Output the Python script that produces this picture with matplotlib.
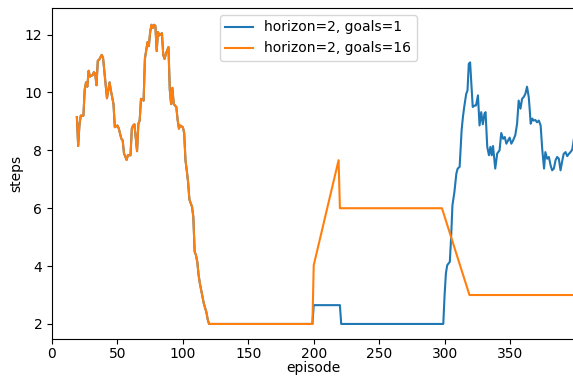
import matplotlib
matplotlib.use("Agg")
import matplotlib.pyplot as plt

# Shared part (both runs identical, episodes 19-120)
shared_ep = [19, 20, 21, 22, 24, 25, 26, 27, 28, 29, 31, 32, 33, 34, 35, 36, 38, 39,
             42, 44, 45, 47, 48, 50, 51, 53, 54, 55, 57, 58, 60, 61, 62, 63, 65, 66,
             67, 68, 70, 71, 72, 73, 74, 75, 76, 77, 78, 79, 80, 81, 82, 84, 85, 86,
             87, 89, 90, 91, 92, 93, 95, 96, 97, 98, 100, 101, 102, 103, 104, 105,
             107, 108, 109, 110, 111, 112, 113, 114, 116, 117, 118, 119, 120]
shared_steps = [9.15, 8.15, 8.9, 9.2, 9.2, 10.1, 10.35, 10.2, 10.75, 10.55, 10.6, 10.7, 10.65,
                10.25, 11.1, 11.13, 11.3, 11.2, 9.8, 10.35, 10.07, 9.6, 8.8, 8.86, 8.76,
                8.4, 8.35, 7.9, 7.67, 7.83, 7.83, 8.75, 8.86, 8.9, 7.97, 8.92, 9.03, 9.78,
                9.72, 11.17, 11.45, 11.74, 11.6, 12.08, 12.34, 12.23, 12.34, 12.3, 11.43,
                12.09, 11.97, 12.05, 11.3, 11.16, 11.33, 11.57, 10.1, 9.6, 10.16, 9.6,
                9.5, 9.05, 8.75, 8.86, 8.8, 8.6, 7.66, 7.3, 6.9, 6.3, 6.05, 5.7, 4.5,
                4.38, 4.15, 3.7, 3.4, 3.17, 2.71, 2.55, 2.4, 2.15, 2.0]

# horizon=2, goals=1 after episode 120
blue_ep = [199, 200, 220, 221, 299, 300, 301, 302, 304, 305, 306, 307.5, 309, 310,
           311.5, 313, 314, 315, 316.5, 317.5, 318.5, 319.5, 320.5, 321.5, 323, 324,
           325.5, 326.7, 328, 329.2, 330.5, 331.3, 332.6, 333.9, 335, 336, 337, 338.7,
           340.2, 342, 343.3, 344.7, 346, 347.2, 348.5, 349.7, 351, 352.3, 354, 355.4,
           356.6, 358, 359.2, 360.4, 361.7, 363, 364.3, 365, 365.8, 367, 368, 369.4,
           370.6, 372, 373.4, 374.6, 376, 377, 378.4, 379.7, 381, 382.2, 383.5, 384.8,
           386, 387.3, 388.6, 390, 391, 392.4, 393.7, 395, 396.2, 397.5, 398.8, 399]
blue_steps = [2.0, 2.65, 2.65, 2.0, 2.0, 3.0, 3.75, 4.03, 4.15, 5.0, 6.1, 6.56, 7.2, 7.37,
              7.43, 8.69, 9.15, 9.5, 9.95, 10.07, 10.99, 11.04, 10.3, 9.5, 9.55, 9.55,
              9.9, 8.86, 9.32, 8.9, 9.27, 9.32, 8.12, 7.83, 8.12, 7.83, 8.15, 7.37,
              7.89, 8.0, 8.6, 8.4, 8.46, 8.23, 8.34, 8.44, 8.23, 8.34, 8.52, 8.92,
              9.72, 9.44, 9.78, 9.84, 9.95, 10.2, 9.84, 9.44, 8.92, 9.1, 9.03, 9.05,
              8.97, 9.03, 8.86, 8.05, 7.37, 7.94, 7.71, 7.77, 7.48, 7.31, 7.37, 7.66,
              7.77, 7.71, 7.31, 7.66, 7.88, 7.94, 7.8, 7.88, 7.94, 8.02, 8.4, 8.45]

# horizon=2, goals=16 after episode 120
orange_ep = [199, 200, 219, 220, 298, 319, 399]
orange_steps = [2.0, 4.03, 7.66, 6.0, 6.0, 3.0, 3.0]

labels = ["horizon=2, goals=1", "horizon=2, goals=16"]
x_ticks = [0, 50, 100, 150, 200, 250, 300, 350]
y_ticks = [2, 4, 6, 8, 10, 12]

fig = plt.figure(figsize=(5.73, 3.76), dpi=100)
ax = fig.add_axes([52 / 573, 1 - 339 / 376, 1 - 52 / 573 + 0.002, (339 - 8) / 376])

ax.plot(shared_ep + blue_ep, shared_steps + blue_steps, color="#1f77b4", lw=1.5, label=labels[0])
ax.plot(shared_ep + orange_ep, shared_steps + orange_steps, color="#ff7f0e", lw=1.5, label=labels[1])

ax.set_xlim(0, 399)
ax.set_ylim(1.48, 12.92)
ax.set_xticks(x_ticks)
ax.set_yticks(y_ticks)
ax.tick_params(axis="x", pad=2)
ax.set_xlabel("episode", labelpad=0)
ax.set_ylabel("steps", labelpad=1)
ax.legend(loc="upper center", bbox_to_anchor=(0.51, 1.0), fontsize=10)

fig.savefig("out.png", dpi=100)
